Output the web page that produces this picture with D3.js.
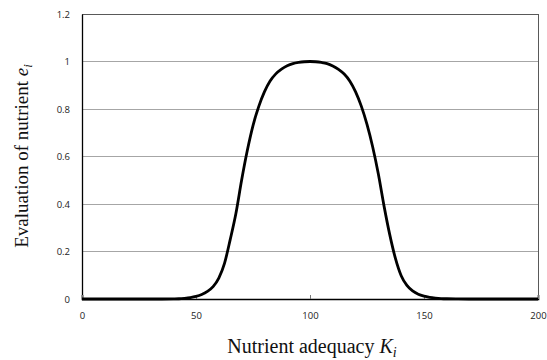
<!DOCTYPE html>
<html><head><meta charset="utf-8">
<script src="https://cdn.jsdelivr.net/npm/d3@7"></script>
<style>body{margin:0;background:#fff}svg{display:block}</style>
</head><body>
<svg id="c" width="547" height="360"></svg>
<script>
const K = [0,5,10,15,20,25,30,35,40,42.5,45,47.5,50,52.5,55,57.5,60,62.5,65,67.5,70,72.5,75,77.5,80,82.5,85,87.5,90,92.5,95,97.5,100,
  102.5,105,107.5,110,112.5,115,117.5,120,122.5,125,127.5,130,132.5,135,137.5,140,142.5,145,147.5,150,152.5,155,157.5,160,165,170,180,190,200];
const E = [0,0,0,0,0,0,0,0,0.0005,0.001,0.003,0.006,0.011,0.019,0.032,0.052,0.088,0.15,0.25,0.36,0.5,0.625,0.73,0.81,0.872,0.918,0.948,0.968,0.982,0.991,0.996,0.999,1.0,
  0.999,0.996,0.991,0.981,0.967,0.947,0.917,0.872,0.812,0.735,0.64,0.525,0.39,0.27,0.17,0.098,0.057,0.034,0.02,0.012,0.007,0.004,0.002,0.001,0.0003,0,0,0,0];
const xTicks = [0,50,100,150,200];
const yTicks = [0,0.2,0.4,0.6,0.8,1,1.2];
const yLabels = ["0","0.2","0.4","0.6","0.8","1","1.2"];

const svg = d3.select("#c");
const L=82, R=538, T=14, B=299;
const x = d3.scaleLinear().domain([0,200]).range([L,R]);
const y = d3.scaleLinear().domain([0,1.2]).range([B,T]);

// gridlines
svg.append("g").selectAll("line").data(yTicks.filter(v=>v>0 && v<1.2)).join("line")
  .attr("x1",L).attr("x2",R).attr("y1",d=>y(d)).attr("y2",d=>y(d))
  .attr("stroke","#a6a6a6").attr("stroke-width",1).attr("shape-rendering","crispEdges");
// frame top/right
svg.append("path").attr("d",`M${L},${T}H${R}V${B}`).attr("fill","none")
  .attr("stroke","#595959").attr("stroke-width",1).attr("shape-rendering","crispEdges");

// y axis
const ya = d3.axisLeft(y).tickValues(yTicks).tickSize(0).tickPadding(12).tickFormat((d,i)=>yLabels[i]);
const gy = svg.append("g").attr("transform",`translate(${L},0)`).call(ya);
gy.select(".domain").attr("stroke","#000").attr("stroke-width",1.3);
gy.selectAll("text").attr("font-family","Open Sans, sans-serif").attr("font-size",9.5).attr("fill","#222");

// x axis
const xa = d3.axisBottom(x).tickValues(xTicks).tickSize(-4).tickPadding(13).tickFormat(d3.format("d"));
const gx = svg.append("g").attr("transform",`translate(0,${B})`).call(xa);
gx.select(".domain").attr("stroke","#000").attr("stroke-width",1.6);
gx.selectAll(".tick line").attr("stroke","#777");
gx.selectAll("text").attr("font-family","Open Sans, sans-serif").attr("font-size",9.5).attr("fill","#222");

// curve
const pts = K.map((k,i)=>[k,E[i]]);
svg.append("path").datum(pts)
  .attr("d", d3.line().x(d=>x(d[0])).y(d=>y(d[1])).curve(d3.curveMonotoneX))
  .attr("fill","none").attr("stroke","#000").attr("stroke-width",2.8).attr("stroke-linejoin","round");

// axis titles
const xt = svg.append("text").attr("x",312).attr("y",353).attr("text-anchor","middle")
  .attr("font-family","Liberation Serif, Times New Roman, serif").attr("font-size",20).attr("fill","#111");
xt.append("tspan").text("Nutrient adequacy ");
xt.append("tspan").attr("font-style","italic").text("K");
xt.append("tspan").attr("font-style","italic").attr("font-size",14).attr("dy",4).text("i");

const yt = svg.append("text").attr("transform","translate(28,156) rotate(-90)").attr("text-anchor","middle")
  .attr("font-family","Liberation Serif, Times New Roman, serif").attr("font-size",19).attr("fill","#111");
yt.append("tspan").text("Evaluation of nutrient ");
yt.append("tspan").attr("font-style","italic").text("e");
yt.append("tspan").attr("font-style","italic").attr("font-size",13).attr("dy",4).text("i");
</script>
</body></html>
